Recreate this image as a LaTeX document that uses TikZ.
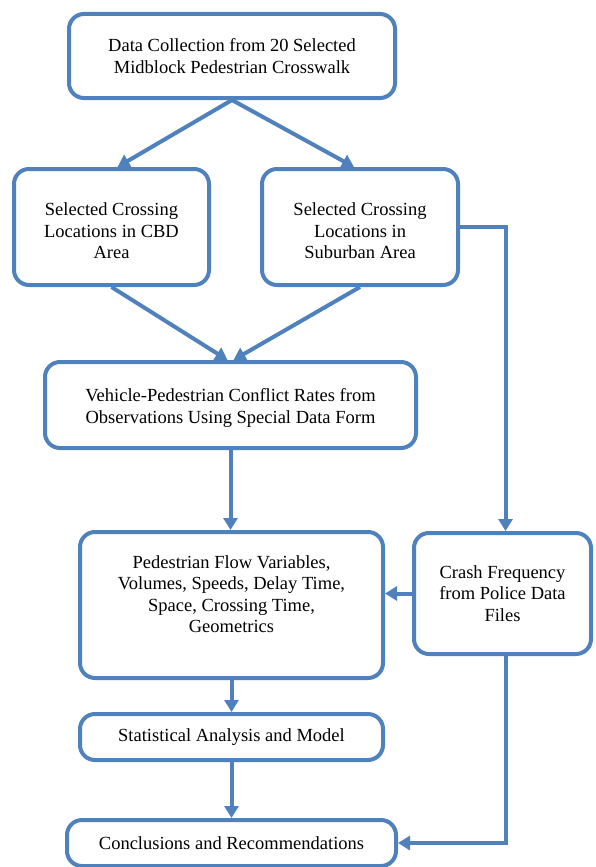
\documentclass[tikz,border=0pt]{standalone}
\usepackage{fontspec}
\setmainfont{Liberation Serif}
\usetikzlibrary{arrows.meta,calc}
\definecolor{flowblue}{RGB}{79,129,189}

\begin{document}
\begin{tikzpicture}[x=1pt,y=-1pt]

\tikzstyle{box}=[draw=flowblue,line width=4pt,rounded corners=15pt,
  align=center,inner sep=4pt,font=\fontsize{18.5}{21.5}\selectfont]
\tikzstyle{link}=[draw=flowblue,line width=4pt,
  -{Triangle[length=12pt,width=14pt]}]

%%% PAGE %%%
\clip (0,0) rectangle (595,867);

%%% BOXES %%%
\node[box,minimum width=326pt,minimum height=84pt] (collect) at (232,56)
  {Data Collection from 20 Selected\\Midblock Pedestrian Crosswalk};
\node[box,minimum width=195pt,minimum height=116pt] (cbd) at (111.5,227)
  {\raisebox{-6pt}[\height][\depth]{\begin{tabular}{@{}c@{}}Selected Crossing\\Locations in CBD\\Area\end{tabular}}};
\node[box,minimum width=196pt,minimum height=116pt] (suburb) at (360,227)
  {\raisebox{-6pt}[\height][\depth]{\begin{tabular}{@{}c@{}}Selected Crossing\\Locations in\\Suburban Area\end{tabular}}};
\node[box,minimum width=371pt,minimum height=86pt] (conflict) at (230.5,405)
  {\raisebox{-3pt}[\height][\depth]{\begin{tabular}{@{}c@{}}Vehicle-Pedestrian Conflict Rates from\\Observations Using Special Data Form\end{tabular}}};
\node[box,minimum width=303pt,minimum height=146pt] (flow) at (231.5,605)
  {\raisebox{9pt}[\height][\depth]{\begin{tabular}{@{}c@{}}Pedestrian Flow Variables,\\Volumes, Speeds, Delay Time,\\Space, Crossing Time,\\Geometrics\end{tabular}}};
\node[box,minimum width=177pt,minimum height=121pt] (crash) at (502.5,593.5)
  {\raisebox{-2pt}[\height][\depth]{\begin{tabular}{@{}c@{}}Crash Frequency\\from Police Data\\Files\end{tabular}}};
\node[box,minimum width=303pt,minimum height=46pt] (stats) at (231.5,737)
  {Statistical Analysis and Model};
\node[box,minimum width=329pt,minimum height=46pt] (concl) at (231.5,843)
  {Conclusions and Recommendations};

%%% ARROWS %%%
\draw[link] (collect.south) -- ($(cbd.north)+(6,0)$);
\draw[link] (collect.south) -- ($(suburb.north)+(-6,0)$);
\draw[link] (cbd.south) -- ($(conflict.north)+(-3,0)$);
\draw[link] (suburb.south) -- ($(conflict.north)+(3,0)$);
\draw[link] (suburb.east) -| ($(crash.north)+(3,0)$);
\draw[link] (conflict.south) -- (conflict.south |- flow.north);
\draw[link] (crash.west) -- (crash.west -| flow.east);
\draw[link] (flow.south) -- (stats.north);
\draw[link] (stats.south) -- (concl.north);
\draw[link] ($(crash.south)+(3,0)$) |- (concl.east);

\end{tikzpicture}
\end{document}
